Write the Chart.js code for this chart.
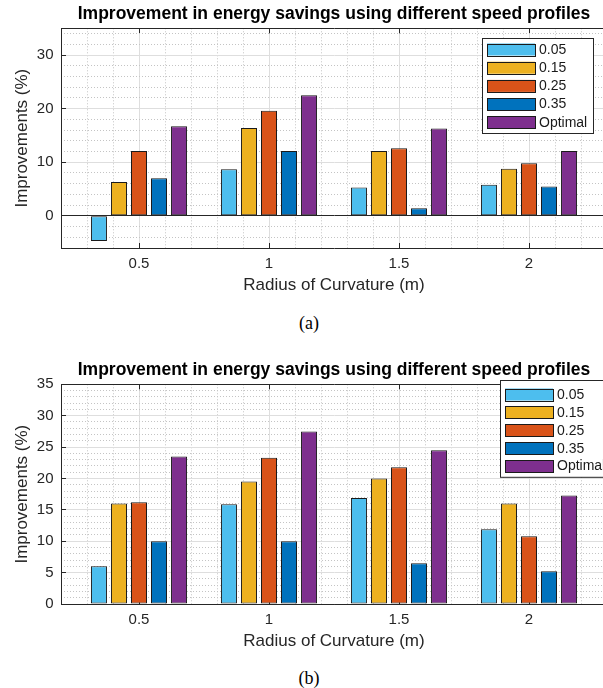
<!DOCTYPE html>
<html>
<head>
<meta charset="utf-8">
<script src="https://cdn.jsdelivr.net/npm/chart.js@4.4.0/dist/chart.umd.min.js"></script>
<style>
  body { margin: 0; width: 603px; height: 688px; overflow: hidden; background: #fff; position: relative; }
  .panel { position: absolute; left: 0; width: 603px; height: 296px; overflow: hidden; }
  .cap { position: absolute; left: 279px; width: 60px; text-align: center; line-height: 20px;
         font: 18px "Liberation Serif", "Times New Roman", serif; color: #000; }
</style>
</head>
<body>
<div class="panel" style="top:0px"><canvas id="chartA" width="607" height="296"></canvas></div>
<div class="cap" style="top:313px">(a)</div>
<div class="panel" style="top:356px"><canvas id="chartB" width="607" height="296"></canvas></div>
<div class="cap" style="top:668px">(b)</div>

<script>
// radius of curvature (x positions) and the speed profiles
const radius = [0.5, 1, 1.5, 2];
const profiles = ["0.05", "0.15", "0.25", "0.35", "Optimal"];
const colors = ["#4DBEEE", "#EDB120", "#D95319", "#0072BD", "#7E2F8E"];

// chart (a)
const a005 = [-4.7, 8.7, 5.3, 5.8];
const a015 = [6.3, 16.4, 12.1, 8.8];
const a025 = [12.1, 19.6, 12.6, 9.8];
const a035 = [7.0, 12.1, 1.4, 5.5];
const aOpt = [16.7, 22.5, 16.3, 12.1];

// chart (b)
const b005 = [6.0, 15.9, 16.9, 11.9];
const b015 = [16.0, 19.5, 20.0, 16.0];
const b025 = [16.2, 23.3, 21.8, 10.8];
const b035 = [10.0, 10.0, 6.5, 5.2];
const bOpt = [23.5, 27.5, 24.5, 17.3];

// tick labels
const xTicks = [0.5, 1, 1.5, 2];
const yTicksA = [0, 10, 20, 30];
const yTicksB = [0, 5, 10, 15, 20, 25, 30, 35];

const titleText = "Improvement in energy savings using different speed profiles";
const axisColor = "#262626";
const gridColor = "#DEDEDE";
const minorColor = "#C4C4C4";

Chart.defaults.font.family = '"Liberation Sans", Arial, Helvetica, sans-serif';
Chart.defaults.color = axisColor;

function setTicks(list){
    return function(scale){
        scale.ticks = list.map(function(v){ return {value: v}; });
    };
}

function minorList(lo, hi, step, skip){
    let out = [];
    for(let i = Math.round(lo / step) + 1; i < Math.round(hi / step); i++){
        let v = +(i * step).toFixed(4);
        if(!skip.some(function(s){ return Math.abs(s - v) < 1e-6; })){
            out.push(v);
        }
    }
    return out;
}

// legend box drawn inside the axes like matlab does
const boxLegend = {
    id: "boxLegend",
    afterDraw(chart, args, opts){
        const ctx = chart.ctx;
        const area = chart.chartArea;
        const x0 = area.right + opts.dx;
        const y0 = area.top + opts.dy;
        const sets = chart.data.datasets;
        const h = opts.first + opts.row * (sets.length - 1) + opts.bottom;
        ctx.save();
        ctx.fillStyle = "#fff";
        ctx.fillRect(x0, y0, opts.w, h);
        ctx.strokeStyle = axisColor;
        ctx.lineWidth = 1;
        ctx.strokeRect(Math.round(x0) + 0.5, Math.round(y0) + 0.5, opts.w, h);
        ctx.font = '14px "Liberation Sans", Arial, sans-serif';
        ctx.textBaseline = "middle";
        ctx.textAlign = "left";
        sets.forEach(function(ds, i){
            const cy = y0 + opts.first + i * opts.row;
            ctx.fillStyle = ds.backgroundColor;
            ctx.fillRect(x0 + 5, cy - 6, 48, 12);
            ctx.strokeStyle = "#1a1a1a";
            ctx.strokeRect(Math.round(x0 + 5) + 0.5, Math.round(cy - 6) + 0.5, 48, 12);
            ctx.fillStyle = "#1a1a1a";
            ctx.fillText(ds.label, x0 + 57, cy + 0.5);
        });
        ctx.restore();
    }
};

function buildChart(id, series, yMin, yMax, yTicks, yMinorStep, legendOpts){
    const datasets = series.map(function(vals, i){
        return {
            label: profiles[i],
            data: vals,
            backgroundColor: colors[i],
            borderColor: "#1a1a1a",
            borderWidth: 1,
            borderSkipped: false,
            categoryPercentage: 0.77,
            barPercentage: 0.8,
            xAxisID: "x",
            yAxisID: "y"
        };
    });

    const minorX = minorList(0.2, 2.3, 0.1, xTicks);
    const minorY = minorList(yMin, yMax, yMinorStep, yTicks);

    return new Chart(document.getElementById(id), {
        type: "bar",
        data: { labels: radius, datasets: datasets },
        options: {
            responsive: false,
            animation: false,
            devicePixelRatio: 1,
            layout: { padding: 0 },
            plugins: {
                legend: { display: false },
                tooltip: { enabled: false },
                title: {
                    display: true,
                    text: titleText,
                    fullSize: false,
                    color: "#000",
                    font: { size: 17.5, weight: "bold" },
                    padding: { top: 4.1, bottom: 3.2 }
                },
                boxLegend: legendOpts
            },
            scales: {
                x: {
                    type: "linear", position: "bottom", min: 0.2, max: 2.3, weight: 1, offset: false,
                    afterBuildTicks: setTicks(xTicks),
                    afterFit: function(s){ s.height = 48; },
                    grid: { offset: false, color: gridColor, drawTicks: true, tickLength: -5, tickColor: axisColor },
                    border: { color: axisColor, width: 1 },
                    ticks: { font: { size: 15 }, color: axisColor, padding: 12, maxRotation: 0, autoSkip: false,
                             callback: function(v){ return String(v); } },
                    title: { display: true, text: "Radius of Curvature (m)", color: axisColor,
                             font: { size: 17 }, padding: { top: 0, bottom: 0 } }
                },
                xm: {
                    type: "linear", position: "bottom", min: 0.2, max: 2.3, weight: 0, offset: false,
                    afterBuildTicks: setTicks(minorX),
                    afterFit: function(s){ s.height = 0; },
                    grid: { offset: false, color: minorColor, drawTicks: false, borderDash: [1, 2] },
                    border: { display: false, dash: [1, 2] },
                    ticks: { display: false }
                },
                xt: {
                    type: "linear", position: "top", min: 0.2, max: 2.3, offset: false,
                    afterBuildTicks: setTicks(xTicks),
                    afterFit: function(s){ s.height = 0; },
                    grid: { offset: false, drawOnChartArea: false, drawTicks: true, tickLength: -5, tickColor: axisColor },
                    border: { color: axisColor, width: 1 },
                    ticks: { display: false }
                },
                y: {
                    type: "linear", position: "left", min: yMin, max: yMax, weight: 1,
                    afterBuildTicks: setTicks(yTicks),
                    afterFit: function(s){ s.width = 61; },
                    grid: {
                        color: function(c){ return (c.tick && c.tick.value === 0) ? axisColor : gridColor; },
                        drawTicks: true, tickLength: -5, tickColor: axisColor
                    },
                    border: { color: axisColor, width: 1 },
                    ticks: { font: { size: 15 }, color: axisColor, padding: 12.5,
                             callback: function(v){ return String(v); } },
                    title: { display: true, text: "Improvements (%)", color: axisColor,
                             font: { size: 17 }, padding: { top: 11.8, bottom: 0 } }
                },
                ym: {
                    type: "linear", position: "left", min: yMin, max: yMax, weight: 0,
                    afterBuildTicks: setTicks(minorY),
                    afterFit: function(s){ s.width = 0; },
                    grid: { color: minorColor, drawTicks: false, borderDash: [1, 2] },
                    border: { display: false, dash: [1, 2] },
                    ticks: { display: false }
                }
            }
        },
        plugins: [boxLegend]
    });
}

buildChart("chartA", [a005, a015, a025, a035, aOpt], -6, 35, yTicksA, 2,
    { dx: -125, dy: 9.7, w: 111, first: 11.5, row: 18.2, bottom: 10.7 });

buildChart("chartB", [b005, b015, b025, b035, bOpt], 0, 35, yTicksB, 1,
    { dx: -107, dy: -4.3, w: 111, first: 14.5, row: 17.9, bottom: 10.7 });
</script>
</body>
</html>
